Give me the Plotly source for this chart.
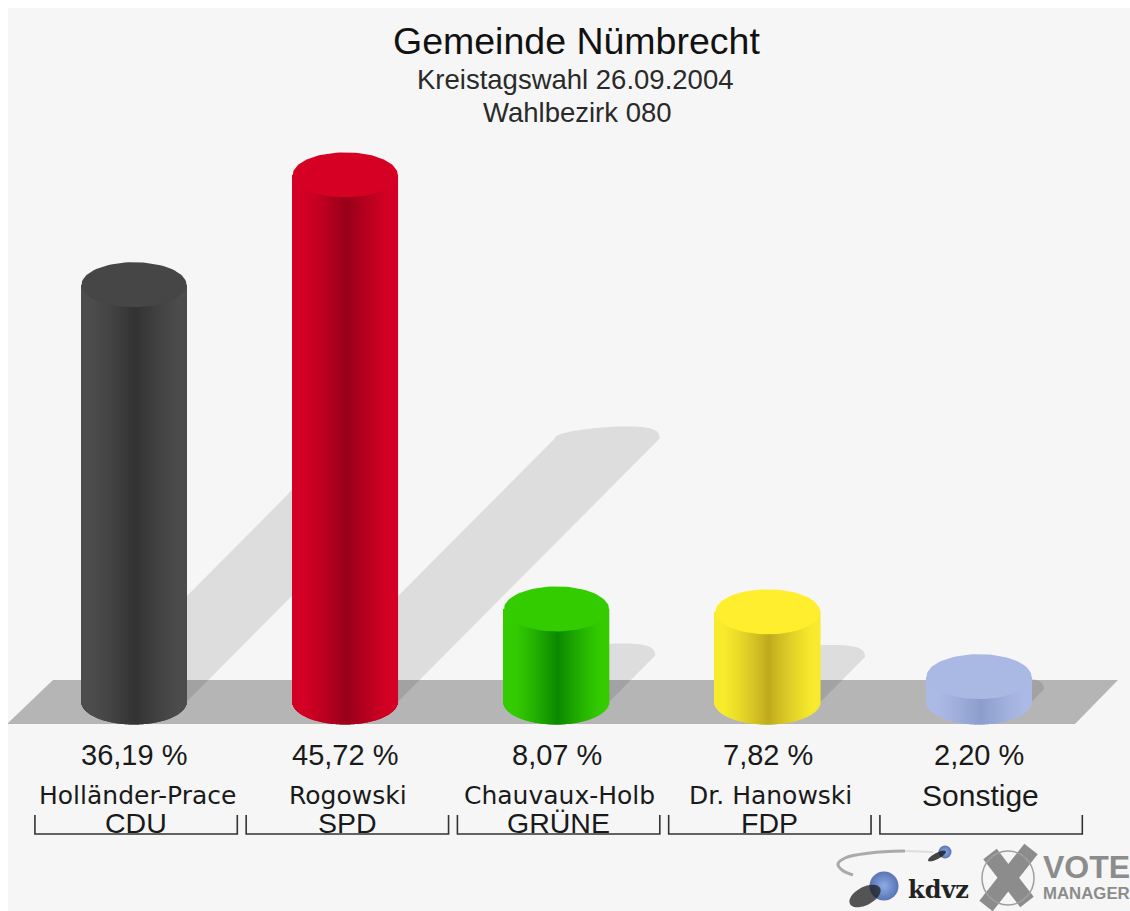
import math
import plotly.graph_objects as go

# ---- data ----
candidates = ["Holländer-Prace", "Rogowski", "Chauvaux-Holb", "Dr. Hanowski", "Sonstige"]
parties = ["CDU", "SPD", "GRÜNE", "FDP", ""]
values = [36.19, 45.72, 8.07, 7.82, 2.20]
value_labels = ["36,19 %", "45,72 %", "8,07 %", "7,82 %", "2,20 %"]
edge_colors = [(76, 76, 76), (212, 0, 36), (52, 204, 0), (248, 234, 44), (170, 186, 228)]
dark_colors = [(50, 50, 50), (150, 0, 26), (10, 136, 0), (190, 170, 30), (140, 156, 204)]
cap_colors = ["#464646", "#d60024", "#33cc00", "#ffee2e", "#a9b9e4"]
title_lines = ["Gemeinde Nümbrecht", "Kreistagswahl 26.09.2004", "Wahlbezirk 080"]

# ---- layout geometry (pixels in the 1130x911 window) ----
FIG_L, FIG_T = 8, 8
FIG_W, FIG_H = 1122, 903
CX0, STEP = 134.0, 211.25
Y0, PX_PER_UNIT = 702.0, 11.53
RX_PX, RY_PX = 52.5, 22.5

def dx(px):
    return (px - CX0) / STEP

def dy(py):
    return (Y0 - py) / PX_PER_UNIT

def pxp(px):
    return (px - FIG_L) / FIG_W

def pyp(py):
    return 1 - (py - FIG_T) / FIG_H

RX, RY = RX_PX / STEP, RY_PX / PX_PER_UNIT
SHEAR_X = 0.497 * PX_PER_UNIT / STEP
SHEAR_Y = 0.50
ARC_H = 12.0 / PX_PER_UNIT
ARC_SKEW = 20.0 / STEP

def mix(a, b, t):
    return "rgb(%d,%d,%d)" % tuple(round(a[k] + (b[k] - a[k]) * t) for k in range(3))

shapes = []
# floor band
floor = [(7, 724), (53, 680), (1118, 680), (1075, 724)]
shapes.append(dict(type="path", layer="below", xref="x", yref="y", line_width=0,
                   fillcolor="#b5b5b5",
                   path="M " + " L ".join(f"{dx(a):.5f} {dy(b):.4f}" for a, b in floor) + " Z"))

# cast shadows: sheared band with a slanted arc on top
for i, v in enumerate(values):
    sx, sy = v * SHEAR_X, v * SHEAR_Y
    pts = [(i - RX, 0)]
    for k in range(61):
        t = math.pi * (1 - k / 60)
        pts.append((i + sx + RX * math.cos(t) + ARC_SKEW * math.sin(t) ** 2, sy + ARC_H * math.sin(t)))
    pts.append((i + RX, 0))
    shapes.append(dict(type="path", layer="below", xref="x", yref="y", line_width=0,
                       fillcolor="rgba(0,0,0,0.1)",
                       path="M " + " L ".join(f"{a:.5f} {b:.4f}" for a, b in pts) + " Z"))

fig = go.Figure()

# cylinder bodies: one thin bar per pixel column gives the shading and the round foot
for i, v in enumerate(values):
    xs, ys, bases, cols = [], [], [], []
    n = int(RX_PX * 2)
    for k in range(n):
        u = (k + 0.5) / n * 2 - 1
        foot = RY * math.sqrt(max(0, 1 - u * u))
        xs.append(i + u * RX)
        ys.append(v + foot)
        bases.append(-foot)
        cols.append(mix(edge_colors[i], dark_colors[i], max(0, 1 - abs(u - 0.04) * 1.15) ** 1.3))
    fig.add_trace(go.Bar(x=xs, y=ys, base=bases, width=1.6 / STEP, marker=dict(color=cols, line_width=0),
                         hoverinfo="skip", showlegend=False))

# cylinder caps
for i, v in enumerate(values):
    tt = [2 * math.pi * k / 90 for k in range(91)]
    fig.add_trace(go.Scatter(x=[i + RX * math.cos(t) for t in tt], y=[v + RY * math.sin(t) for t in tt],
                             mode="lines", fill="toself", fillcolor=cap_colors[i], line=dict(width=0),
                             hoverinfo="skip", showlegend=False))

# brackets under the categories
for i in range(len(values)):
    c, h = i + 0.01, 0.479
    fig.add_trace(go.Scatter(x=[c - h, c - h, c + h, c + h], y=[dy(815), dy(834), dy(834), dy(815)],
                             mode="lines", line=dict(color="#333333", width=1.6),
                             hoverinfo="skip", showlegend=False))

# ---- logo decoration ----
def blob(cx, cy, a, b, deg, color):
    r = math.radians(deg)
    p = []
    for k in range(48):
        t = 2 * math.pi * k / 48
        ex, ey = a * math.cos(t), b * math.sin(t)
        p.append((pxp(cx + ex * math.cos(r) - ey * math.sin(r)), pyp(cy + ex * math.sin(r) + ey * math.cos(r))))
    return dict(type="path", xref="paper", yref="paper", line_width=0, fillcolor=color,
                path="M " + " L ".join(f"{a_:.5f} {b_:.5f}" for a_, b_ in p) + " Z")

shapes.append(blob(865, 896, 17, 9, -28, "rgba(30,30,30,0.75)"))
shapes.append(blob(937, 856, 10, 3, -28, "rgba(25,25,25,0.8)"))
swoosh_l = [(905, 851), (870, 853), (845, 858), (838, 864), (842, 870), (853, 875)]
swoosh_r = [(933, 852), (905, 851)]
fig.add_trace(go.Scatter(x=[dx(a) for a, _ in swoosh_r], y=[dy(b) for _, b in swoosh_r], mode="lines",
                         line=dict(color="#dddddd", width=2), hoverinfo="skip", showlegend=False))
fig.add_trace(go.Scatter(x=[dx(a) for a, _ in swoosh_l], y=[dy(b) for _, b in swoosh_l], mode="lines",
                         line=dict(color="#aaaaaa", width=3, shape="spline"), hoverinfo="skip", showlegend=False))
fig.add_trace(go.Scatter(x=[dx(884), dx(945)], y=[dy(886), dy(852)], mode="markers",
                         marker=dict(size=[29, 13], color=["#173a9a", "#173a9a"], line_width=0,
                                     gradient=dict(type="radial", color="#5f8ddc")),
                         hoverinfo="skip", showlegend=False))
shapes.append(dict(type="circle", xref="paper", yref="paper", x0=pxp(982), x1=pxp(1034), y0=pyp(905), y1=pyp(851),
                   line=dict(color="#a0a0a0", width=1.5)))
fig.add_trace(go.Scatter(x=[dx(990), dx(1027), None, dx(1031), dx(986)], y=[dy(854), dy(902), None, dy(849), dy(906)],
                         mode="lines", line=dict(color="#8c8c8c", width=17), hoverinfo="skip", showlegend=False))

# ---- texts ----
FONT = "Liberation Sans, Arial, sans-serif"
NAME_FONT = "DejaVu Sans, sans-serif"
ann = []

def text(px, py, s, size, color="#1a1a1a", anchor="center", family=FONT):
    ann.append(dict(x=pxp(px), y=pyp(py), xref="paper", yref="paper", text=s, showarrow=False,
                    xanchor=anchor, yanchor="middle", font=dict(family=family, size=size, color=color)))

text(576.5, 41, title_lines[0], 37.5, "#111111")
text(574.5, 79, title_lines[1], 27.5, "#2a2a2a")
text(577, 112, title_lines[2], 27.5, "#2a2a2a")

for i in range(len(values)):
    cx = CX0 + STEP * i
    text(cx, 755, value_labels[i], 29)
    if parties[i]:
        text(cx + 3, 795, candidates[i], 25, family=NAME_FONT)
        text(cx + 2, 823, parties[i], 28.5)
    else:
        text(cx + 1, 795, candidates[i], 30)

text(939, 889, "<b>kdvz</b>", 24, "#222222", family="DejaVu Serif, serif")
text(1041, 867, "<b>VOTE</b>", 32, "#8c8c8c", anchor="left")
text(1041, 893, "<b>MANAGER</b>", 16.8, "#8c8c8c", anchor="left")

fig.update_layout(
    width=FIG_W, height=FIG_H, autosize=False,
    margin=dict(l=0, r=0, t=0, b=0, pad=0),
    paper_bgcolor="#f6f6f6", plot_bgcolor="#f6f6f6",
    barmode="overlay", showlegend=False, shapes=shapes, annotations=ann,
    xaxis=dict(range=[dx(FIG_L), dx(FIG_L + FIG_W)], visible=False, fixedrange=True),
    yaxis=dict(range=[dy(FIG_T + FIG_H), dy(FIG_T)], visible=False, fixedrange=True),
)
page_fit = "document.documentElement.style.overflow='hidden';document.body.style.margin='8px 0 0 8px';"
fig.write_html("out.html", config={"displayModeBar": False},
               default_width=f"{FIG_W}px", default_height=f"{FIG_H}px", post_script=page_fit)
